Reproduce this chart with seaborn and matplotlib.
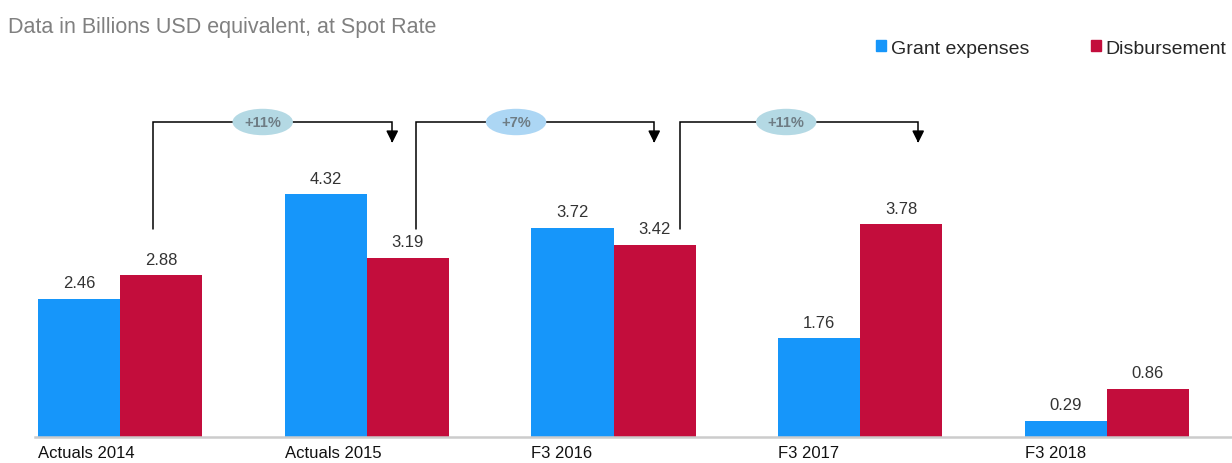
import matplotlib.pyplot as plt
import matplotlib.patches as mpatches
from matplotlib.patches import Ellipse
import pandas as pd
import seaborn as sns

# ── data ────────────────────────────────────────────────────────────────────
periods = ["Actuals 2014", "Actuals 2015", "F3 2016", "F3 2017", "F3 2018"]
grant_expenses = [2.46, 4.32, 3.72, 1.76, 0.29]
disbursement = [2.88, 3.19, 3.42, 3.78, 0.86]
growth_labels = ["+11%", "+7%", "+11%"]

BLUE = "#1696fa"
RED = "#c30d3c"

df = pd.DataFrame({
    "period": periods * 2,
    "value": grant_expenses + disbursement,
    "series": ["Grant expenses"] * 5 + ["Disbursement"] * 5,
})

sns.set_theme(style="white")
plt.rcParams["font.family"] = ["Liberation Sans", "DejaVu Sans"]

fig = plt.figure(figsize=(12.32, 4.64), dpi=100)
ax = fig.add_axes([35 / 1232, 26 / 464, 1 - 35 / 1232, 438 / 464])

sns.barplot(data=df, x="period", y="value", hue="series", order=periods,
            palette=[BLUE, RED], width=0.665, saturation=1, ax=ax,
            legend=False, edgecolor="none")

ax.set_ylim(0, 438 / 56.25)
ax.set_xlim(-0.345, 4.507)

# value labels
for cont in ax.containers:
    ax.bar_label(cont, fmt="%.2f", padding=6, fontsize=12, color="#333333")

# left-aligned category labels at the group's left edge
ax.set_xticks([i - 0.3325 for i in range(len(periods))])
ax.set_xticklabels(periods, ha="left", fontsize=12, color="#111111")
ax.tick_params(axis="x", length=0, pad=6)
ax.set_yticks([])
ax.set_xlabel("")
ax.set_ylabel("")
for s in ["top", "right", "left"]:
    ax.spines[s].set_visible(False)
ax.spines["bottom"].set_color("#cccccc")
ax.spines["bottom"].set_linewidth(1.8)

# growth brackets
brackets = [(0.134, 1.103, 0.578), (1.20, 2.165, 1.605), (2.27, 3.235, 2.70)]
ell_colors = ["#b4d9e4", "#acd6f4", "#b4d9e4"]
y_top, y_bot, y_arrow = 5.6, 3.70, 5.18
for (x0, x1, xm), lab, ec in zip(brackets, growth_labels, ell_colors):
    ax.plot([x0, x0, x1, x1], [y_bot, y_top, y_top, y_arrow + 0.1],
            color="black", lw=1.1, solid_joinstyle="miter")
    ax.annotate("", xy=(x1, y_arrow), xytext=(x1, y_arrow + 0.15),
                arrowprops=dict(arrowstyle="-|>,head_width=0.3,head_length=0.6",
                                color="black", lw=1.1))
    ax.add_patch(Ellipse((xm, y_top), 0.245, 0.47, facecolor=ec,
                         edgecolor="none", zorder=3))
    ax.text(xm, y_top, lab, ha="center", va="center", fontsize=10.5,
            fontweight="bold", color="#6e7c84", zorder=4)

fig.text(8 / 1232, 1 - 28 / 464, "Data in Billions USD equivalent, at Spot Rate",
         fontsize=15.5, color="#808080", va="center", ha="left")

handles = [mpatches.Patch(color=BLUE, label="Grant expenses"),
           mpatches.Patch(color=RED, label="Disbursement")]
fig.legend(handles=handles, loc="center left", ncol=2,
           bbox_to_anchor=(876 / 1232, 1 - 49 / 464), frameon=False,
           fontsize=14, handlelength=0.5, handleheight=0.5,
           handletextpad=0.25, columnspacing=3.2, borderaxespad=0,
           borderpad=0)

fig.savefig("out.png", dpi=100)
